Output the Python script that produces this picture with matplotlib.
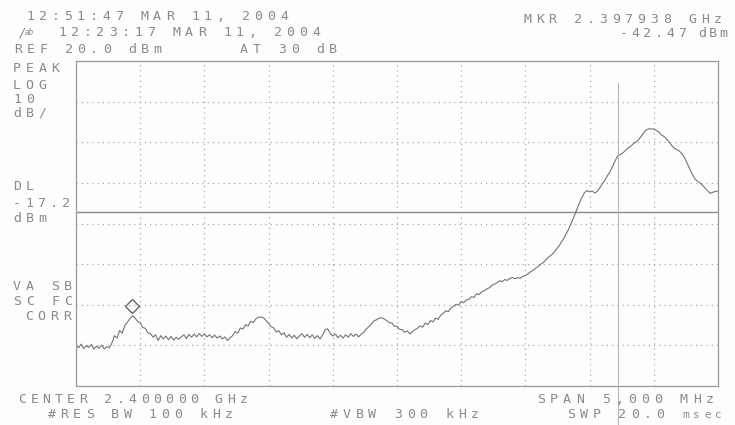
import numpy as np
import matplotlib
matplotlib.use("Agg")
from matplotlib import pyplot as plt
from matplotlib.lines import Line2D
from matplotlib.transforms import ScaledTranslation

# Datos del analizador
centro_mhz = 2400.0
span_mhz = 5.0
ref_dbm = 20.0
escala_db = 10.0
divisiones_y = 8
divisiones_x = 10
dl_dbm = -17.2
mkr_mhz = 2397.938
mkr_dbm = -42.47

# Amplitud de la traza (dBm), leida punto a punto sobre el barrido
amplitud_dbm = [
    -50.0, -50.6, -49.7, -50.8, -50.1, -50.5, -49.8, -50.9, -50.2, -50.7,
    -49.9, -50.9, -50.3, -50.6, -49.4, -47.6, -48.2, -46.3, -47.0, -45.1,
    -44.3, -43.4, -42.7, -43.3, -44.1, -44.5, -45.6, -45.8, -46.9, -47.1,
    -48.0, -47.4,
    -48.8, -47.6, -48.4, -47.7, -48.6, -47.8, -48.7, -48.0, -48.5, -47.9,
    -47.4, -48.3, -47.3, -48.0, -47.2, -47.9, -47.1, -47.8, -47.2, -47.9,
    -47.4, -48.1, -47.5, -48.2, -47.7, -48.4, -47.9, -48.8, -48.1, -47.6,
    -46.6, -47.0, -45.7, -46.0, -44.9, -45.2, -44.1, -44.4, -43.5, -43.1,
    -43.0, -43.2, -43.9, -44.6, -45.4, -45.7, -46.7, -46.4, -47.4, -46.9,
    -48.0, -47.3, -48.2, -47.5, -48.4, -47.7, -47.1, -48.0, -47.3, -48.1,
    -47.4, -48.3, -47.6, -48.4, -47.5, -46.2, -45.9, -47.1, -47.7, -47.2,
    -48.1, -47.5, -48.2, -47.4, -48.0, -47.1, -47.8, -47.2, -47.9, -47.3,
    -46.8, -46.0, -45.4, -44.8, -44.0, -43.7, -43.3, -43.2, -43.5, -43.9,
    -44.4, -44.5, -45.3, -45.3, -46.1, -46.1, -46.8, -46.4, -47.2, -46.6,
    -46.1, -45.8, -45.2, -45.5, -44.5, -44.9, -43.9, -44.2, -43.3, -43.6,
    -42.6, -42.1, -41.5, -41.7, -40.8, -40.4, -39.9, -40.1, -39.2, -39.5,
    -38.8, -38.7, -38.0, -38.2, -37.3, -37.5, -36.8, -36.5, -36.1, -35.8,
    -35.2, -34.9, -34.6, -34.1, -34.3, -33.8, -34.0, -33.5, -33.3, -33.6,
    -33.3, -33.5, -33.0, -32.8, -32.4, -31.9, -31.5, -31.0, -30.6, -30.0,
    -29.6, -28.9, -28.3, -27.8, -27.2, -26.4, -25.6, -24.6, -23.6, -22.4,
    -21.2, -19.7, -18.2, -16.6, -15.0, -13.6, -12.4, -11.9, -12.2, -12.0,
    -12.5, -12.1, -11.2, -10.2, -9.3, -8.2, -7.2, -5.9, -4.5, -3.3,
    -3.0, -2.6, -2.0, -1.4, -1.0, -0.4, 0.0, 0.6, 1.4, 2.3,
    3.0, 3.3, 3.3, 3.2, 2.9, 2.5, 1.8, 1.4, 0.8, 0.0,
    -0.8, -1.5, -1.8, -2.2, -2.9, -3.8, -5.2, -6.6, -7.9, -9.0,
    -9.6, -10.0, -10.6, -11.3, -12.0, -12.6, -12.3, -12.1,
    -12.0,
]

f_ini = centro_mhz - span_mhz / 2
f_fin = centro_mhz + span_mhz / 2
frecuencia_mhz = np.linspace(f_ini, f_fin, len(amplitud_dbm))  # puntos del barrido
y_min = ref_dbm - escala_db * divisiones_y

W, H = 735, 425
gris_txt = "#8a8a8a"
gris_traza = "#747474"

fig = plt.figure(figsize=(W / 100, H / 100), dpi=100)
fig.patch.set_facecolor("#fdfdfd")

# Caja de la pantalla (en pixeles)
izq, der, arr, aba = 76, 718, 61, 386
ax = fig.add_axes([izq / W, 1 - aba / H, (der - izq) / W, (aba - arr) / H])
ax.set_facecolor("#fdfdfd")
ax.set_xlim(f_ini, f_fin)
ax.set_ylim(y_min, ref_dbm)
ax.set_xticks(np.linspace(f_ini, f_fin, divisiones_x + 1))
ax.set_yticks(np.linspace(y_min, ref_dbm, divisiones_y + 1))
ax.tick_params(length=0, labelbottom=False, labelleft=False)
ax.grid(True, color="#a8a8a8", linestyle=(0, (1, 3.2)), linewidth=0.9)
for s in ax.spines.values():
    s.set_color("#9a9a9a")
    s.set_linewidth(0.9)

# Linea de display
ax.axhline(dl_dbm, color="#8a8a8a", linewidth=1.0)

# Traza
ax.plot(frecuencia_mhz, amplitud_dbm, color=gris_traza, linewidth=0.8)

# Marcador (rombo apoyado sobre la traza)
desplaza = ScaledTranslation(0, 6.5 / 72, fig.dpi_scale_trans)
ax.plot([mkr_mhz], [mkr_dbm], marker="D", markersize=7.5, mfc="none",
        mec="#666666", mew=1.0, transform=ax.transData + desplaza)

# Linea vertical del escaneo
fig.add_artist(Line2D([618 / W, 618 / W], [0, 1 - 83 / H], color="#b5b5b5",
                      linewidth=0.8, transform=fig.transFigure))


def texto(x, y, s, paso=12.7, size=9.5):
    # cada caracter en su celda, como la fuente del analizador
    for i, c in enumerate(s):
        if c != " ":
            fig.text((x + i * paso) / W, 1 - y / H, c, ha="left", va="baseline",
                     fontsize=size, color=gris_txt, family="DejaVu Sans Mono")


# Encabezado
texto(26, 20, "12:51:47 MAR 11, 2004")
texto(58, 36, "12:23:17 MAR 11, 2004")
fig.text(19 / W, 1 - 36 / H, "/", fontsize=9, color=gris_txt, style="italic",
         family="DejaVu Sans Mono")
fig.text(25 / W, 1 - 35 / H, "ab", fontsize=5.5, color=gris_txt, style="italic",
         family="DejaVu Sans Mono")
texto(14, 53, "REF 20.0 dBm")
texto(240, 53, "AT 30 dB")
texto(523, 23, "MKR 2.397938 GHz")
texto(620, 37, "-42.47", paso=11.6)
texto(698, 37, "dBm", paso=10.5)

# Etiquetas de la izquierda
texto(13, 72, "PEAK")
texto(13, 89, "LOG")
texto(13, 103, "10")
texto(13, 117, "dB/")
texto(13, 190, "DL")
texto(13, 207, "-17.2", paso=12.3)
texto(13, 222, "dBm")
texto(13, 290, "VA SB")
texto(13, 305, "SC FC")
texto(25, 320, "CORR")

# Pie
texto(18, 403, "CENTER 2.400000 GHz", paso=12.3)
texto(48, 418, "#RES BW 100 kHz", paso=12.6)
texto(330, 418, "#VBW 300 kHz", paso=12.8)
texto(537, 403, "SPAN 5,000 MHz", paso=13.0)
texto(567, 418, "SWP 20.0", paso=12.8)
texto(682, 418, "msec", paso=11.0, size=8)

fig.savefig("out.png", dpi=100, facecolor=fig.get_facecolor())
